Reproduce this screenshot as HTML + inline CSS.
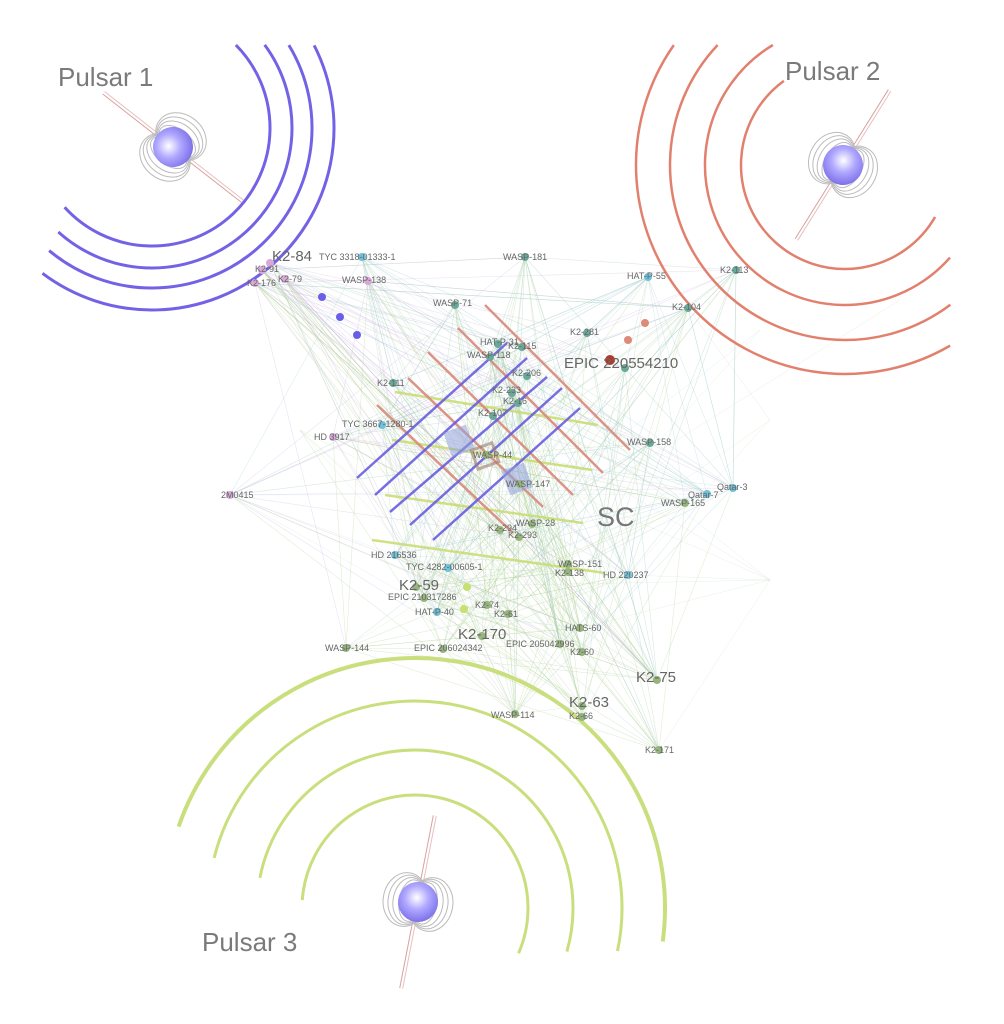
<!DOCTYPE html>
<html><head><meta charset="utf-8"><style>
html,body{margin:0;padding:0;background:#fff;}
svg{display:block;font-family:"Liberation Sans",sans-serif;}
.l{fill:#666;font-size:9px;}
.L{fill:#666;font-size:15px;}
.P{fill:#7a7a7a;font-size:26px;}
</style></head><body>
<svg id="s" width="1004" height="1024" viewBox="0 0 1004 1024" xmlns="http://www.w3.org/2000/svg">
<defs>
<radialGradient id="g" cx="45%" cy="40%" r="60%"><stop offset="0" stop-color="#ffffff"/><stop offset="0.5" stop-color="#b0a8ff"/><stop offset="1" stop-color="#7f72ea"/></radialGradient>
<g id="field" fill="none" stroke="#bbb" stroke-width="1">
<ellipse cx="-7" cy="0" rx="12" ry="21"/><ellipse cx="-9" cy="0" rx="16" ry="23"/><ellipse cx="-11" cy="0" rx="19" ry="25"/><ellipse cx="-13" cy="0" rx="22" ry="27"/>
<ellipse cx="7" cy="0" rx="12" ry="21"/><ellipse cx="9" cy="0" rx="16" ry="23"/><ellipse cx="11" cy="0" rx="19" ry="25"/><ellipse cx="13" cy="0" rx="22" ry="27"/>
</g>
<g id="pulsar">
<line x1="-1.5" y1="-88" x2="-1.5" y2="88" stroke="#d9a0a0" stroke-width="1"/>
<line x1="1.5" y1="-88" x2="1.5" y2="88" stroke="#e6c0c0" stroke-width="1"/>
<use href="#field"/>
<circle r="20" fill="url(#g)"/>
</g>
</defs>
<g id="edges"></g>

<g id="arcs"></g>

<!-- grid lines -->
<g stroke="#c8dc6e" stroke-width="2.5" opacity="0.85">
<line x1="395" y1="392" x2="598" y2="425"/>
<line x1="392" y1="440" x2="592" y2="470"/>
<line x1="385" y1="495" x2="583" y2="523"/>
<line x1="372" y1="540" x2="605" y2="573"/>
</g>
<g stroke="#d88a7a" stroke-width="2.5" opacity="0.9">
<line x1="485" y1="305" x2="630" y2="450"/>
<line x1="458" y1="328" x2="603" y2="473"/>
<line x1="428" y1="352" x2="573" y2="495"/>
<line x1="408" y1="378" x2="543" y2="507"/>
<line x1="377" y1="405" x2="513" y2="533"/>
</g>
<g stroke="#6a5ee0" stroke-width="2.5" opacity="0.9">
<line x1="357" y1="478" x2="507" y2="343"/>
<line x1="375" y1="495" x2="527" y2="358"/>
<line x1="390" y1="512" x2="547" y2="377"/>
<line x1="410" y1="525" x2="562" y2="388"/>
<line x1="433" y1="540" x2="580" y2="408"/>
</g>
<rect x="447" y="428" width="24" height="26" fill="#8fa0d8" opacity="0.55" transform="rotate(-20 459 441)"/>
<rect x="474" y="446" width="22" height="20" fill="none" stroke="#a07a70" stroke-width="3" opacity="0.6" transform="rotate(-20 485 456)"/>
<rect x="505" y="466" width="24" height="26" fill="#8fa0d8" opacity="0.55" transform="rotate(-20 517 479)"/>

<g fill="#6a5ee8"><circle cx="322" cy="297" r="4"/><circle cx="340" cy="317" r="4"/><circle cx="357" cy="335" r="4"/></g>
<g fill="#dd8a78"><circle cx="645" cy="323" r="4"/><circle cx="628" cy="340" r="4"/></g>
<circle cx="610" cy="360" r="5" fill="#b03a2a"/>
<g fill="#c8e070"><circle cx="467" cy="587" r="4"/><circle cx="464" cy="609" r="4"/></g>

<g id="nodes"></g>

<g>
<text class="L" x="272" y="261">K2-84</text>
<text class="l" x="319" y="260">TYC 3318-01333-1</text>
<text class="l" x="255" y="272">K2-91</text>
<text class="l" x="278" y="282">K2-79</text>
<text class="l" x="247" y="286">K2-176</text>
<text class="l" x="342" y="283">WASP-138</text>
<text class="l" x="503" y="260">WASP-181</text>
<text class="l" x="627" y="279">HAT-P-55</text>
<text class="l" x="720" y="273">K2-113</text>
<text class="l" x="433" y="306">WASP-71</text>
<text class="l" x="672" y="310">K2-104</text>
<text class="l" x="570" y="335">K2-281</text>
<text class="l" x="480" y="345">HAT-P-31</text>
<text class="l" x="508" y="349">K2-115</text>
<text class="l" x="467" y="358">WASP-118</text>
<text class="L" x="564" y="368">EPIC 220554210</text>
<text class="l" x="512" y="376">K2-206</text>
<text class="l" x="377" y="386">K2-111</text>
<text class="l" x="492" y="393">K2-233</text>
<text class="l" x="503" y="404">K2-16</text>
<text class="l" x="478" y="416">K2-107</text>
<text class="l" x="342" y="427">TYC 3667-1280-1</text>
<text class="l" x="314" y="440">HD 3917</text>
<text class="l" x="627" y="445">WASP-158</text>
<text class="l" x="473" y="458">WASP-44</text>
<text class="l" x="506" y="487">WASP-147</text>
<text class="l" x="688" y="498">Qatar-7</text>
<text class="l" x="717" y="490">Qatar-3</text>
<text class="l" x="661" y="506">WASP-165</text>
<text class="l" x="221" y="498">2M0415</text>
<text x="597" y="526" fill="#777" font-size="27">SC</text>
<text class="l" x="516" y="526">WASP-28</text>
<text class="l" x="488" y="531">K2-294</text>
<text class="l" x="508" y="538">K2-293</text>
<text class="l" x="371" y="558">HD 216536</text>
<text class="l" x="406" y="570">TYC 4282-00605-1</text>
<text class="l" x="558" y="567">WASP-151</text>
<text class="l" x="555" y="576">K2-138</text>
<text class="l" x="603" y="578">HD 220237</text>
<text class="L" x="399" y="590">K2-59</text>
<text class="l" x="388" y="600">EPIC 210317286</text>
<text class="l" x="475" y="608">K2-74</text>
<text class="l" x="415" y="615">HAT-P-40</text>
<text class="l" x="494" y="617">K2-61</text>
<text class="l" x="565" y="631">HATS-60</text>
<text class="L" x="458" y="639">K2-170</text>
<text class="l" x="325" y="651">WASP-144</text>
<text class="l" x="414" y="651">EPIC 206024342</text>
<text class="l" x="506" y="647">EPIC 205042996</text>
<text class="l" x="570" y="655">K2-60</text>
<text class="L" x="636" y="682">K2-75</text>
<text class="L" x="569" y="707">K2-63</text>
<text class="l" x="491" y="718">WASP-114</text>
<text class="l" x="569" y="719">K2-66</text>
<text class="l" x="645" y="753">K2-171</text>
</g>

<use href="#pulsar" transform="translate(173,147) rotate(-52)"/>
<use href="#pulsar" transform="translate(843,165) rotate(32)"/>
<use href="#pulsar" transform="translate(418,902) rotate(11)"/>
<text class="P" x="58" y="86">Pulsar 1</text>
<text class="P" x="785" y="80">Pulsar 2</text>
<text class="P" x="202" y="951">Pulsar 3</text>
</svg>
<script>
(function(){
var ns='http://www.w3.org/2000/svg';
var A=document.getElementById('arcs');
function arc(cx,cy,r,a0,a1,sweep,col,w){
 var d2r=Math.PI/180;
 var x0=cx+r*Math.cos(a0*d2r),y0=cy+r*Math.sin(a0*d2r),x1=cx+r*Math.cos(a1*d2r),y1=cy+r*Math.sin(a1*d2r);
 var span=sweep?((a1-a0)%360+360)%360:((a0-a1)%360+360)%360;
 var p=document.createElementNS(ns,'path');
 p.setAttribute('d','M'+x0+' '+y0+' A'+r+' '+r+' 0 '+(span>180?1:0)+' '+sweep+' '+x1+' '+y1);
 p.setAttribute('fill','none');p.setAttribute('stroke',col);p.setAttribute('stroke-width',w);A.appendChild(p);
}
var b='#7362e6';
arc(152,128,118,-44.7,137.8,1,b,3);
arc(152,128,140,-36.4,132,1,b,3);
arc(152,128,160,-31.2,130,1,b,3);
arc(152,128,182,-27,127,1,b,3);
var r='#e2806e';
arc(845,165,104,-126,30,0,r,2.5);
arc(845,165,140,-121,41.4,0,r,2.5);
arc(845,165,175,-136.7,53,0,r,2.5);
arc(845,165,209,-145,59.8,0,r,2.5);
var y='#c9df7e';
arc(415,908,113,184,23.6,1,y,3);
arc(415,908,158,191,16,1,y,3);
arc(415,908,207,194,12,1,y,3);
arc(415,908,250,199,7.7,1,y,4);

var N=[[270,263,'p'],[362,257,'c'],[262,270,'p'],[285,279,'p'],[255,283,'p'],[368,281,'p'],[525,257,'t'],[648,277,'c'],[736,270,'t'],[455,305,'t'],[688,308,'t'],[587,333,'t'],[498,344,'t'],[522,347,'t'],[490,357,'t'],[625,368,'t'],[527,376,'t'],[393,383,'t'],[512,393,'t'],[518,403,'t'],[493,416,'t'],[382,425,'c'],[333,437,'p'],[650,443,'t'],[487,455,'g'],[520,484,'g'],[707,494,'c'],[733,488,'c'],[685,503,'g'],[230,495,'p'],[532,524,'g'],[500,530,'g'],[519,537,'g'],[395,555,'c'],[448,568,'c'],[568,564,'g'],[568,572,'g'],[628,575,'c'],[416,587,'g'],[424,598,'g'],[487,605,'g'],[437,612,'c'],[508,614,'g'],[580,628,'g'],[482,636,'g'],[346,648,'g'],[443,649,'g'],[560,644,'g'],[582,652,'g'],[657,680,'g'],[582,706,'g'],[515,714,'g'],[582,717,'g'],[659,750,'g']];
var col={p:'#d8a8d8',c:'#6fc0d8',t:'#6aa89a',g:'#96b47e'};
var lc={p:'#d0b8e0',c:'#a8d0d8',t:'#9cc8b8',g:'#b4d498'};
var E=document.getElementById('edges'),Nd=document.getElementById('nodes');
var seed=7;function rn(){seed=(seed*16807)%2147483647;return seed/2147483647;}
for(var i=0;i<N.length;i++){for(var k=0;k<8;k++){var j=Math.floor(rn()*N.length);if(j==i)continue;
var a=N[i],c=N[j];var l=document.createElementNS(ns,'line');
l.setAttribute('x1',a[0]);l.setAttribute('y1',a[1]);l.setAttribute('x2',c[0]);l.setAttribute('y2',c[1]);
l.setAttribute('stroke',lc[a[2]]);l.setAttribute('stroke-width','0.6');l.setAttribute('opacity','0.4');E.appendChild(l);}}
var ex=[[770,420],[770,580],[760,330],[900,300],[300,430],[230,495]];
for(var m=0;m<25;m++){var a=N[Math.floor(rn()*N.length)],c=ex[Math.floor(rn()*ex.length)];var l=document.createElementNS(ns,'line');
l.setAttribute('x1',a[0]);l.setAttribute('y1',a[1]);l.setAttribute('x2',c[0]);l.setAttribute('y2',c[1]);
l.setAttribute('stroke',lc[a[2]]);l.setAttribute('stroke-width','0.5');l.setAttribute('opacity','0.3');E.appendChild(l);}
N.forEach(function(n){var c=document.createElementNS(ns,'circle');c.setAttribute('cx',n[0]);c.setAttribute('cy',n[1]);c.setAttribute('r',4);c.setAttribute('fill',col[n[2]]);Nd.appendChild(c);});
})();
</script>
</body></html>
